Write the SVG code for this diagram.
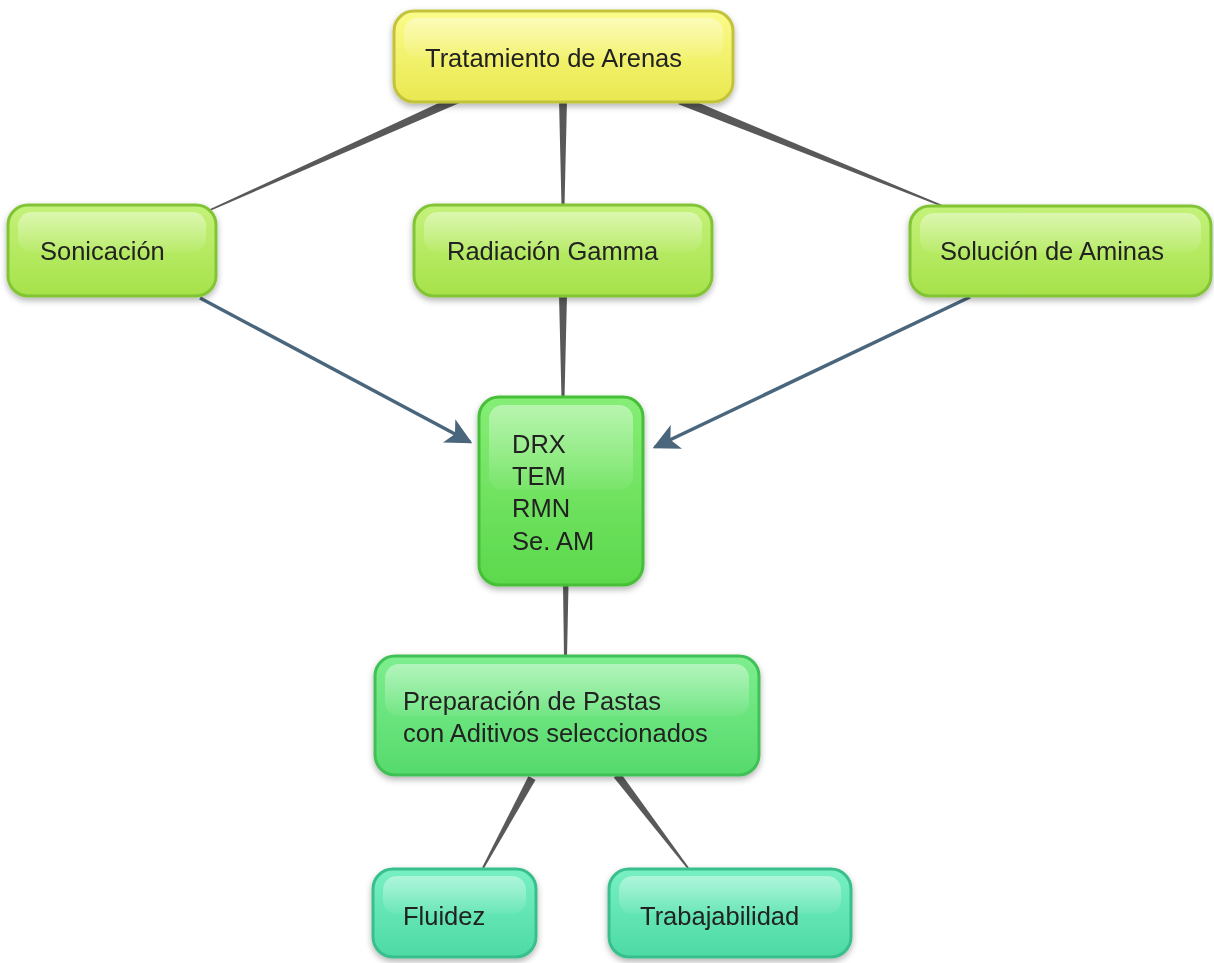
<svg xmlns="http://www.w3.org/2000/svg" width="1214" height="963" viewBox="0 0 1214 963">
<defs>
<linearGradient id="gY" x1="0" y1="0" x2="0" y2="1"><stop offset="0" stop-color="#fbfb8a"/><stop offset="1" stop-color="#e9e850"/></linearGradient>
<linearGradient id="gL" x1="0" y1="0" x2="0" y2="1"><stop offset="0" stop-color="#c4f27a"/><stop offset="1" stop-color="#a6e24a"/></linearGradient>
<linearGradient id="gG" x1="0" y1="0" x2="0" y2="1"><stop offset="0" stop-color="#86ee76"/><stop offset="1" stop-color="#5cd84c"/></linearGradient>
<linearGradient id="gP" x1="0" y1="0" x2="0" y2="1"><stop offset="0" stop-color="#7eee8e"/><stop offset="1" stop-color="#56da6c"/></linearGradient>
<linearGradient id="gT" x1="0" y1="0" x2="0" y2="1"><stop offset="0" stop-color="#78f0c4"/><stop offset="1" stop-color="#4ddaa4"/></linearGradient>
<linearGradient id="hl" x1="0" y1="0" x2="0" y2="1"><stop offset="0" stop-color="#ffffff" stop-opacity="0.42"/><stop offset="1" stop-color="#ffffff" stop-opacity="0.05"/></linearGradient>
<filter id="sh" x="-10%" y="-10%" width="120%" height="130%"><feDropShadow dx="0" dy="3" stdDeviation="3" flood-color="#000" flood-opacity="0.3"/></filter>
<marker id="ah" viewBox="0 0 10 10" refX="9" refY="5" markerWidth="9" markerHeight="7.5" markerUnits="strokeWidth" orient="auto"><path d="M0,0 L10,5 L0,10 L2.5,5 z" fill="#4a667c"/></marker>
<style>
text{font-family:"Liberation Sans",Arial,sans-serif;font-size:25.5px;fill:#222}
.y{fill:url(#gY);stroke:#c2c23a;stroke-width:3}
.l{fill:url(#gL);stroke:#82c436;stroke-width:3}
.g{fill:url(#gG);stroke:#46bf38;stroke-width:3}
.p{fill:url(#gP);stroke:#40c056;stroke-width:3}
.t{fill:url(#gT);stroke:#38bf8c;stroke-width:3}
.h{fill:url(#hl)}
.w{fill:#595959}
.ar{stroke:#4a667c;stroke-width:3.5;fill:none}
</style>
</defs>
<rect width="1214" height="963" fill="#ffffff"/>
<g id="connectors">
<polygon class="w" points="458.2,93.9 461.8,102.1 210.3,210.7 209.7,209.3"/>
<polygon class="w" points="559,100 567,100 564.5,206 561.5,206"/>
<polygon class="w" points="681.7,95.8 678.3,104.2 944.7,207.7 945.3,206.3"/>
<polygon class="w" points="559,295 567,295 564.5,398 561.5,398"/>
<polygon class="w" points="563,584 568.5,584 567,657 564,657"/>
<polygon class="w" points="535.5,779.9 528.5,776.1 482.1,867.5 483.9,868.5"/>
<polygon class="w" points="613.8,777.4 620.2,772.6 688.8,867.4 687.2,868.6"/>
<line class="ar" x1="200" y1="298" x2="470" y2="442" marker-end="url(#ah)"/>
<line class="ar" x1="970" y1="297" x2="655" y2="447" marker-end="url(#ah)"/>
</g>
<g id="n-tratamiento" filter="url(#sh)">
<rect class="y" x="394" y="11" width="339" height="91" rx="20"/>
<rect class="h" x="404" y="18" width="319" height="40" rx="14"/>
<text x="425" y="67">Tratamiento de Arenas</text>
</g>
<g id="n-sonicacion" filter="url(#sh)">
<rect class="l" x="8" y="205" width="208" height="91" rx="20"/>
<rect class="h" x="18" y="212" width="188" height="40" rx="14"/>
<text x="40" y="260">Sonicación</text>
</g>
<g id="n-radiacion" filter="url(#sh)">
<rect class="l" x="414" y="205" width="298" height="91" rx="20"/>
<rect class="h" x="424" y="212" width="278" height="40" rx="14"/>
<text x="447" y="260">Radiación Gamma</text>
</g>
<g id="n-solucion" filter="url(#sh)">
<rect class="l" x="910" y="206" width="301" height="90" rx="20"/>
<rect class="h" x="920" y="213" width="281" height="40" rx="14"/>
<text x="940" y="260">Solución de Aminas</text>
</g>
<g id="n-drx" filter="url(#sh)">
<rect class="g" x="479" y="397" width="164" height="188" rx="20"/>
<rect class="h" x="489" y="405" width="144" height="85" rx="14"/>
<text x="512" y="453">DRX</text>
<text x="512" y="485">TEM</text>
<text x="512" y="517">RMN</text>
<text x="512" y="550">Se. AM</text>
</g>
<g id="n-preparacion" filter="url(#sh)">
<rect class="p" x="375" y="656" width="384" height="119" rx="20"/>
<rect class="h" x="385" y="664" width="364" height="52" rx="14"/>
<text x="403" y="710">Preparación de Pastas</text>
<text x="403" y="742">con Aditivos seleccionados</text>
</g>
<g id="n-fluidez" filter="url(#sh)">
<rect class="t" x="373" y="869" width="163" height="88" rx="20"/>
<rect class="h" x="383" y="876" width="143" height="38" rx="14"/>
<text x="403" y="925">Fluidez</text>
</g>
<g id="n-trabajabilidad" filter="url(#sh)">
<rect class="t" x="609" y="869" width="242" height="88" rx="20"/>
<rect class="h" x="619" y="876" width="222" height="38" rx="14"/>
<text x="640" y="925">Trabajabilidad</text>
</g>
</svg>
